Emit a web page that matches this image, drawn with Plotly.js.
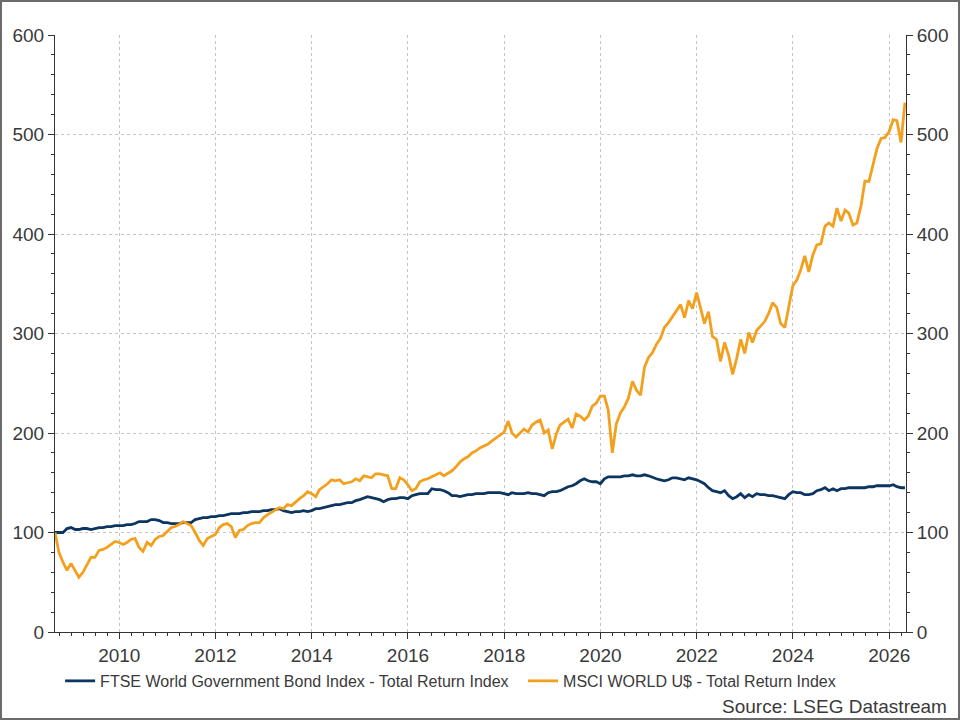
<!DOCTYPE html>
<html>
<head>
<meta charset="utf-8">
<script src="https://cdn.plot.ly/plotly-3.0.1.min.js"></script>
<style>
  html, body { margin: 0; padding: 0; background: #fff; }
  #wrap { position: relative; width: 960px; height: 720px; }
  #chart { width: 960px; height: 720px; }
  #frame { position: absolute; left: 0; top: 0; width: 960px; height: 720px;
           box-sizing: border-box; border: 2px solid #6b6b6b; pointer-events: none; }
</style>
</head>
<body>
<div id="wrap">
  <div id="chart"></div>
  <div id="frame"></div>
</div>
<script>
// Monthly total return indices, rebased to 100 at end of August 2008.
const startYear = 2008;
const startMonth = 8; // August (month-end observations)

const bondLabel = 'FTSE World Government Bond Index - Total Return Index';
const equityLabel = 'MSCI WORLD U$ - Total Return Index';

// FTSE World Government Bond Index (one row per calendar year)
const bondIndex = [
  100, 100, 100, 104,                                         // 2008 Aug-Nov
  105, 103, 103, 104, 104, 103, 104, 105, 105, 106, 106, 107, // 2008 Dec - 2009 Nov
  107, 107, 108, 108, 109, 111, 111, 111, 113, 113, 112, 110,
  110, 109, 109, 109, 110, 110, 110, 113, 114, 115, 115, 116,
  116, 117, 117, 118, 119, 119, 119, 120, 120, 121, 121, 121,
  122, 122, 123, 123, 124, 122, 121, 120, 121, 121, 122, 121,
  122, 124, 124, 125, 126, 127, 128, 128, 129, 130, 130, 132,
  133, 135, 136, 135, 134, 133, 131, 133, 134, 134, 135, 135,
  134, 137, 138, 139, 139, 139, 144, 143, 143, 142, 140, 137,
  137, 136, 137, 138, 138, 139, 139, 139, 140, 140, 140, 140,
  139, 138, 140, 139, 139, 139, 140, 139, 139, 138, 137, 140,
  141, 141, 142, 144, 146, 147, 149, 152, 154, 152, 151, 151,
  149, 154, 156, 156, 156, 156, 157, 157, 158, 157, 157, 158,
  157, 155, 154, 153, 152, 153, 155, 155, 154, 153, 155, 154,
  153, 151, 149, 145, 142, 141, 140, 142, 137, 134, 136, 139,
  135, 138, 136, 139, 138, 138, 137, 137, 136, 135, 134, 138,
  141, 140, 140, 138, 138, 139, 142, 143, 145, 142, 144, 142,
  144, 144, 145, 145, 145, 145, 145, 146, 146, 147, 147, 147,
  147, 148, 146, 145, 145
];

// MSCI World (USD) total return index
const equityIndex = [
  100, 80, 70, 62,
  69, 62, 55, 60, 67, 75, 75, 82, 83, 85, 88, 91,
  90, 88, 90, 93, 94, 85, 81, 90, 87, 93, 96, 97,
  101, 105, 106, 108, 111, 109, 107, 100, 92, 87, 94, 96,
  98, 105, 108, 109, 106, 95, 102, 103, 107, 109, 110, 110,
  115, 118, 120, 123, 125, 124, 128, 127, 131, 134, 137, 141,
  139, 136, 143, 146, 149, 153, 152, 153, 149, 150, 151, 154,
  152, 157, 156, 155, 159, 159, 158, 157, 144, 144, 155, 153,
  148, 142, 144, 151, 153, 154, 156, 158, 160, 157, 160, 162,
  166, 171, 174, 176, 180, 182, 185, 187, 189, 192, 195, 198,
  201, 212, 200, 196, 200, 204, 201, 208, 211, 213, 200, 203,
  184, 199, 208, 211, 214, 205, 219, 217, 213, 217, 227, 230,
  237, 237, 223, 180, 209, 220, 226, 235, 252, 243, 238, 266,
  276, 281, 289, 295, 306, 311, 317, 322, 329, 316, 333, 325,
  341, 325, 310, 322, 297, 294, 272, 291, 278, 259, 275, 294,
  280, 301, 291, 303, 307, 312, 320, 331, 326, 310, 306, 327,
  348, 354, 364, 378, 362, 379, 389, 390, 408, 411, 408, 426,
  413, 424, 421, 409, 411, 428, 453, 453, 471, 486, 496, 497,
  503, 515, 514, 492, 532
];

const yTickVals = [0, 100, 200, 300, 400, 500, 600];
const xTickYears = ['2010', '2012', '2014', '2016', '2018', '2020', '2022', '2024', '2026'];
const sourceText = 'Source: LSEG Datastream';

// month-end date for each observation
function monthEnds(n) {
  const out = [];
  for (let i = 0; i < n; i++) {
    const d = new Date(Date.UTC(startYear, startMonth - 1 + i + 1, 0));
    out.push(d.toISOString().slice(0, 10));
  }
  return out;
}
const dates = monthEnds(bondIndex.length);

const navy = '#0c3661';
const orange = '#f2a01e';
const textColor = '#3a3a3a';
const axisColor = '#333333';
const gridColor = '#c4c4c4';
const fontFamily = '"Liberation Sans", Arial, Helvetica, sans-serif';

const traces = [
  { x: dates, y: bondIndex, name: bondLabel, type: 'scatter', mode: 'lines',
    line: { color: navy, width: 2.8 }, legend: 'legend' },
  { x: dates, y: equityIndex, name: equityLabel, type: 'scatter', mode: 'lines',
    line: { color: orange, width: 2.8 }, legend: 'legend2' },
  // invisible trace so the right-hand axis is drawn
  { x: dates, y: equityIndex, yaxis: 'y2', type: 'scatter', mode: 'lines',
    line: { color: 'rgba(0,0,0,0)', width: 0 }, showlegend: false, hoverinfo: 'skip' }
];

const yCommon = {
  range: [0, 600], tickvals: yTickVals, ticktext: yTickVals.map(String),
  ticks: 'outside', ticklen: 6, tickwidth: 1, tickcolor: axisColor,
  showline: true, linecolor: axisColor, linewidth: 1,
  tickfont: { size: 19, color: textColor, family: fontFamily },
  minor: { dtick: 20, tick0: 0, ticks: 'outside', ticklen: 3, tickcolor: axisColor, showgrid: false },
  zeroline: false, fixedrange: true
};

const legendCommon = {
  orientation: 'h', xanchor: 'left', y: -0.082, yanchor: 'middle',
  font: { size: 16, color: textColor, family: fontFamily },
  bgcolor: 'rgba(0,0,0,0)', itemwidth: 30
};

const layout = {
  width: 960, height: 720,
  paper_bgcolor: '#ffffff', plot_bgcolor: '#ffffff',
  margin: { l: 55, r: 54, t: 35, b: 88 },
  font: { family: fontFamily, color: textColor },
  showlegend: true,
  xaxis: {
    type: 'date',
    range: ['2008-08-31', '2026-05-08'],
    tickvals: xTickYears.map(y => y + '-01-01'),
    ticktext: xTickYears,
    ticks: 'outside', ticklen: 6, tickcolor: axisColor,
    showline: true, linecolor: axisColor, linewidth: 1,
    showgrid: true, gridcolor: gridColor, griddash: 'dot', gridwidth: 1,
    tickfont: { size: 19, color: textColor, family: fontFamily },
    minor: { dtick: 'M3', tick0: '2008-01-01', ticks: 'outside', ticklen: 3, tickcolor: axisColor, showgrid: false },
    zeroline: false
  },
  yaxis: Object.assign({}, yCommon, {
    side: 'left', showgrid: true, gridcolor: gridColor, griddash: 'dot', gridwidth: 1
  }),
  yaxis2: Object.assign({}, yCommon, {
    side: 'right', overlaying: 'y', showgrid: false
  }),
  legend: Object.assign({}, legendCommon, { x: 0.006 }),
  legend2: Object.assign({}, legendCommon, { x: 0.550 }),
  annotations: [{
    text: sourceText, xref: 'paper', yref: 'paper',
    x: 1.05, y: -0.125, xanchor: 'right', yanchor: 'middle', showarrow: false,
    font: { size: 19, color: textColor, family: fontFamily }
  }]
};

Plotly.newPlot('chart', traces, layout, { displayModeBar: false, staticPlot: true });
</script>
</body>
</html>
